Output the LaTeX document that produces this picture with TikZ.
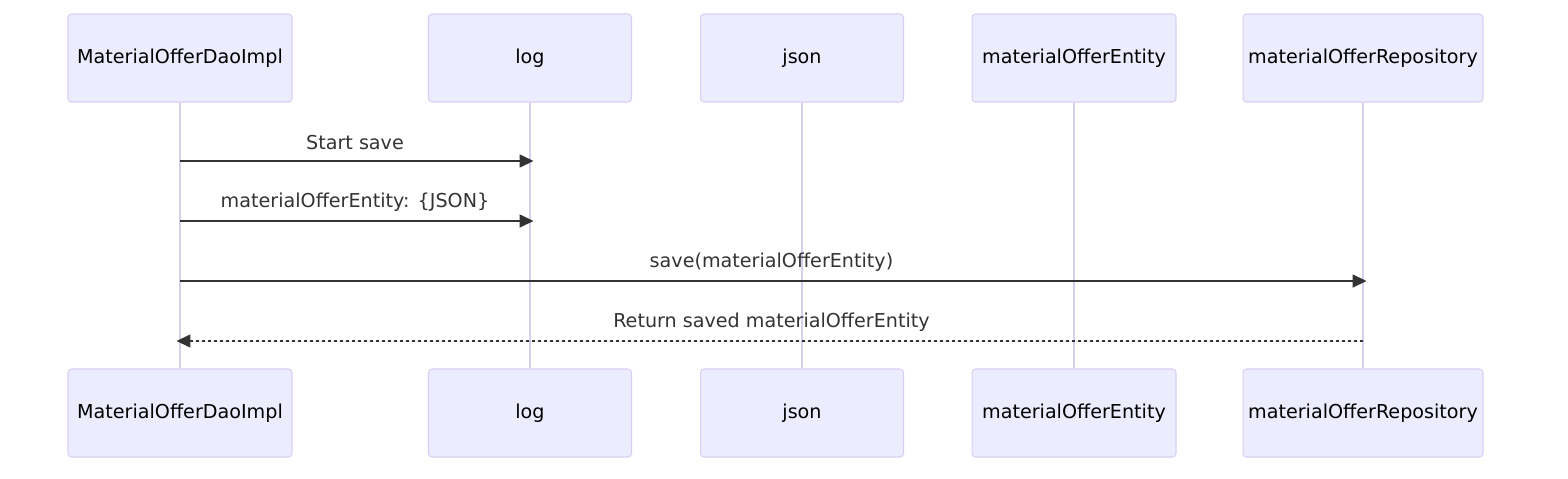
\documentclass[tikz,border=0pt]{standalone}
\usepackage{fontspec}
\setmainfont{DejaVu Sans}
\usetikzlibrary{positioning}
\usetikzlibrary{arrows.meta}
\definecolor{actorfill}{HTML}{ECECFF}
\definecolor{actorline}{HTML}{D9CEF2}
\definecolor{msgline}{HTML}{333333}
\tikzset{
    actor/.style = {rectangle, rounded corners=2pt, draw=actorline, fill=actorfill, line width=0.6pt, minimum height=1.76cm, inner sep=0, font=\fontsize{10.9}{13}\selectfont},
    lifeline/.style = {draw=actorline, line width=1.1pt},
    msg/.style = {-{Triangle[length=0.28cm, width=0.26cm]}, line width=0.9pt, draw=msgline, fill=msgline, shorten >=-2pt},
    msgd/.style = {msg, dash pattern=on 0.06cm off 0.06cm}, % return
    msglabel/.style = {midway, yshift=0.37cm, text=msgline, font=\fontsize{10.9}{13}\selectfont}
}
\begin{document}
\begin{tikzpicture}[x=0.02cm, y=-0.02cm]
\useasboundingbox (0,0) rectangle (1568,478);

\node[actor, minimum width=4.48cm] at (180, 58) (a) {MaterialOfferDaoImpl};
\node[actor, minimum width=4.06cm] at (530, 58) (b) {log};
\node[actor, minimum width=4.06cm] at (802, 58) (c) {json};
\node[actor, minimum width=4.08cm] at (1074, 58) (d) {materialOfferEntity};
\node[actor, minimum width=4.80cm] at (1363, 58) (e) {materialOfferRepository};
\node[actor, minimum width=4.48cm] at (180, 413) (a2) {MaterialOfferDaoImpl};
\node[actor, minimum width=4.06cm] at (530, 413) (b2) {log};
\node[actor, minimum width=4.06cm] at (802, 413) (c2) {json};
\node[actor, minimum width=4.08cm] at (1074, 413) (d2) {materialOfferEntity};
\node[actor, minimum width=4.80cm] at (1363, 413) (e2) {materialOfferRepository};
%
\draw[lifeline] (a) -- (a2);
\draw[lifeline] (b) -- (b2);
\draw[lifeline] (c) -- (c2);
\draw[lifeline] (d) -- (d2);
\draw[lifeline] (e) -- (e2);
%
\coordinate (a1) at (a |- 0,161);
\coordinate (b1) at (b |- 0,161);
\coordinate (a3) at (a |- 0,221);
\coordinate (b3) at (b |- 0,221);
\coordinate (a4) at (a |- 0,281);
\coordinate (e4) at (e |- 0,281);
\coordinate (a5) at (a |- 0,341);
\coordinate (e5) at (e |- 0,341);
\draw[msg] (a1) -- (b1) node[msglabel] {Start save};
\draw[msg] (a3) -- (b3) node[msglabel] {materialOfferEntity: \{JSON\}};
\draw[msg] (a4) -- (e4) node[msglabel] {save(materialOfferEntity)};
\draw[msgd] (e5) -- (a5) node[msglabel] {Return saved materialOfferEntity};

\end{tikzpicture}
\end{document}
